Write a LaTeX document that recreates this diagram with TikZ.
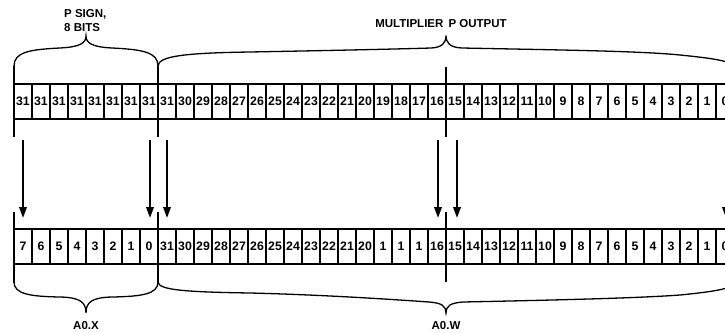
\documentclass[tikz,border=0pt]{standalone}
\usepackage{fontspec}
\setmainfont{Liberation Sans}
\usetikzlibrary{arrows.meta}
\begin{document}
\begin{tikzpicture}[x=1pt,y=-1pt,
  cell/.style={draw, line width=2pt, minimum width=18pt, minimum height=35pt,
    inner sep=0pt, outer sep=0pt, font=\bfseries\fontsize{12.3}{14}\selectfont},
  lbl/.style={font=\bfseries\fontsize{11.5}{13.5}\selectfont, inner sep=0pt, align=left},
  ext/.style={line width=2pt},
  brace/.style={line width=1.3pt},
  arr/.style={line width=2pt, -{Triangle[length=11pt,width=7.5pt]}, shorten <=21pt, shorten >=11pt}
]
\clip (0,0) rectangle (725,332);
% top row
\foreach \l [count=\i from 0] in {31,31,31,31,31,31,31,31,31,30,29,28,27,26,25,24,23,22,21,20,19,18,17,16,15,14,13,12,11,10,9,8,7,6,5,4,3,2,1,0}
  \node[cell] (t\i) at ({23+18*\i},101.5) {\l};
% bottom row
\foreach \l [count=\i from 0] in {7,6,5,4,3,2,1,0,31,30,29,28,27,26,25,24,23,22,21,20,1,1,1,16,15,14,13,12,11,10,9,8,7,6,5,4,3,2,1,0}
  \node[cell] (b\i) at ({23+18*\i},246.5) {\l};
% extension lines
\draw[ext] (t0.north west) ++(0,-18) -- ++(0,71);
\draw[ext] (t7.north east) ++(0,-18) -- ++(0,71);
\draw[ext] (t23.north east) ++(0,-17) -- ++(0,70);
\draw[ext] (b0.north west) ++(0,-17) -- ++(0,71);
\draw[ext] (b7.north east) ++(0,-17) -- ++(0,71);
\draw[ext] (b23.north east) ++(0,-17) -- ++(0,70);
% arrows
\draw[arr] (t0.south) -- (b0.north);
\draw[arr] ([xshift=1pt]t7.south) -- ([xshift=1pt]b7.north);
\draw[arr] (t8.south) -- (b8.north);
\draw[arr] ([xshift=1pt]t23.south) -- ([xshift=1pt]b23.north);
\draw[arr] ([xshift=2pt]t24.south) -- ([xshift=2pt]b24.north);
\draw[arr] ([xshift=1pt]t39.south) -- ([xshift=1pt]b39.north);
% top braces
\draw[brace] (14,66) .. controls (14,52) and (30,49.5) .. (60,48)
  .. controls (80,47) and (86,43) .. (86,36)
  .. controls (86,43) and (92,47) .. (112,48)
  .. controls (142,49.5) and (158,52) .. (158,66);
\draw[brace] (158,66) .. controls (158.5,56) and (185,53) .. (250,52)
  .. controls (330,50.5) and (400,49) .. (431,48)
  .. controls (442,47.5) and (446,43) .. (446,35.5)
  .. controls (446,43) and (450,47.5) .. (462,48)
  .. controls (560,50) and (640,51) .. (680,55)
  .. controls (720,59) and (734,62) .. (734,68);
% bottom braces
\draw[brace] (14,282) .. controls (14,294) and (30,296.5) .. (60,297)
  .. controls (80,297.5) and (86,302) .. (86,313)
  .. controls (86,302) and (92,297.5) .. (112,297)
  .. controls (142,296.5) and (158,294) .. (158,282);
\draw[brace] (158,282) .. controls (158.5,290) and (185,292) .. (250,293)
  .. controls (330,295) and (400,300) .. (429,302)
  .. controls (442,303) and (446,306) .. (446,313)
  .. controls (446,306) and (450,303) .. (463,302)
  .. controls (560,300) and (640,298) .. (680,295)
  .. controls (720,291) and (734,288) .. (734,282);
% labels
\node[lbl, anchor=north west] (psign) at (64,9.5) {P SIGN,\\8 BITS};
\node[lbl] (mult) at (441,24) {MULTIPLIER\hspace{0.45em}P OUTPUT};
\node[lbl] (aox) at (86,326) {A0.X};
\node[lbl] (aow) at (446,326) {A0.W};
\end{tikzpicture}
\end{document}
